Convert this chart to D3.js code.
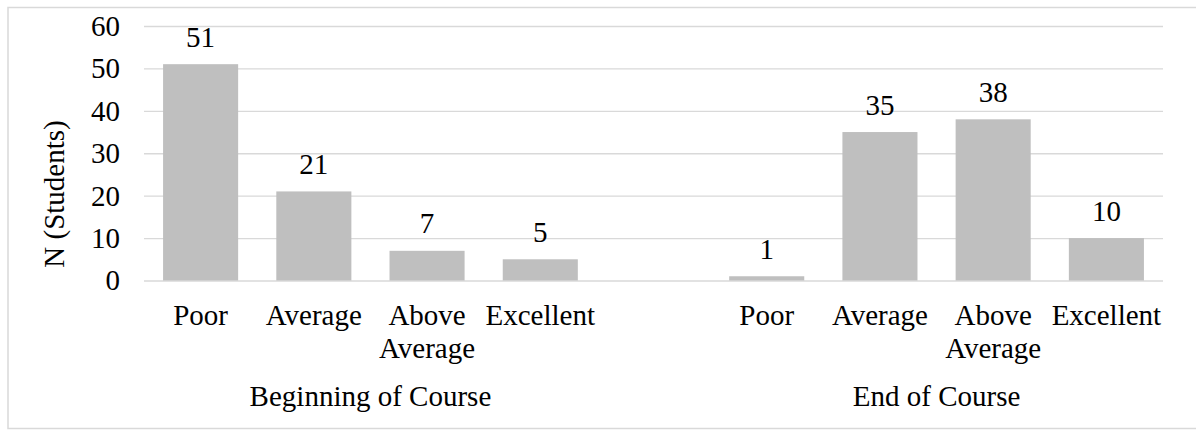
<!DOCTYPE html>
<html>
<head>
<meta charset="utf-8">
<script src="https://cdn.jsdelivr.net/npm/d3@7/dist/d3.min.js"></script>
<style>
  html, body { margin: 0; padding: 0; background: #fff; overflow: hidden; }
  svg { display: block; }
  svg text, svg tspan { font-family: "Liberation Serif", "Times New Roman", Tinos, serif !important; }
</style>
</head>
<body>
<svg id="chart" width="1196" height="430" font-family="Liberation Serif"></svg>
<script>
// Rating categories shared by both survey points
const ratings = ["Poor", "Average", "Above Average", "Excellent"];
// Survey points (outer category level)
const groups = ["Beginning of Course", "End of Course"];
// Number of students per rating
const beginningCounts = [51, 21, 7, 5];
const endCounts = [1, 35, 38, 10];
// Y axis ticks
const yTicks = [0, 10, 20, 30, 40, 50, 60];
const yTitle = "N (Students)";

const seriesByGroup = [beginningCounts, endCounts];

// One slot per bar, with an empty slot separating the two groups
const slots = [];
groups.forEach((g, gi) => {
  if (gi > 0) slots.push({ key: "gap" + gi, spacer: true });
  ratings.forEach((r, ri) => {
    slots.push({ key: g + "|" + r, group: g, rating: r, value: seriesByGroup[gi][ri] });
  });
});
const bars = slots.filter(d => !d.spacer);

const svg = d3.select("#chart");
const W = 1196, H = 430;
const plot = { left: 144, right: 1163, top: 26, bottom: 280.5 };
const FONT_FAMILY = "Liberation Serif";
const FONT_SIZE = 29;

function serif(sel) {
  return sel
    .attr("font-family", FONT_FAMILY)
    .attr("font-size", FONT_SIZE)
    .attr("fill", "#000");
}

// Outer frame (open on the right, running past the edge)
svg.append("path")
  .attr("d", `M${W + 20},7.5 H8 V428.5 H${W + 20}`)
  .attr("fill", "none")
  .attr("stroke", "#d9d9d9").attr("stroke-width", 1.5);

const x = d3.scaleBand()
  .domain(slots.map(d => d.key))
  .range([plot.left, plot.right])
  .paddingInner(0.337)
  .paddingOuter(0.1685);

const y = d3.scaleLinear()
  .domain([0, 60])
  .range([plot.bottom, plot.top]);

// Horizontal gridlines
const yAxis = d3.axisLeft(y)
  .tickValues(yTicks)
  .tickSize(-(plot.right - plot.left))
  .tickFormat("");

const yg = svg.append("g")
  .attr("transform", `translate(${plot.left},0)`)
  .call(yAxis);
yg.select(".domain").remove();
yg.selectAll(".tick line")
  .attr("stroke", "#d9d9d9")
  .attr("stroke-width", 1.3);

// Y tick labels
serif(svg.append("g")
  .selectAll("text")
  .data(yTicks)
  .join("text")
  .attr("x", plot.left - 24)
  .attr("y", d => y(d))
  .attr("dy", "0.34em")
  .attr("text-anchor", "end")
  .text(d => d));

// Bars
svg.append("g")
  .selectAll("rect")
  .data(bars)
  .join("rect")
  .attr("x", d => x(d.key))
  .attr("y", d => y(d.value))
  .attr("width", x.bandwidth())
  .attr("height", d => y(0) - y(d.value))
  .attr("fill", "#bfbfbf");

// Value labels
serif(svg.append("g")
  .selectAll("text")
  .data(bars)
  .join("text")
  .attr("x", d => x(d.key) + x.bandwidth() / 2)
  .attr("y", d => y(d.value) - 17.5)
  .attr("text-anchor", "middle")
  .text(d => d.value));

// Category labels (split into two lines where needed)
const catLines = { "Above Average": ["Above", "Average"] };
const catG = svg.append("g");
bars.forEach(d => {
  const lines = catLines[d.rating] || [d.rating];
  const t = serif(catG.append("text")
    .attr("x", x(d.key) + x.bandwidth() / 2)
    .attr("y", 325)
    .attr("text-anchor", "middle"));
  lines.forEach((ln, i) => {
    t.append("tspan")
      .attr("x", x(d.key) + x.bandwidth() / 2)
      .attr("dy", i === 0 ? 0 : 33)
      .text(ln);
  });
});

// Group labels centred under their four bars
groups.forEach(g => {
  const keys = bars.filter(d => d.group === g).map(d => d.key);
  const x0 = x(keys[0]) - x.step() * x.paddingInner() / 2;
  const x1 = x(keys[keys.length - 1]) + x.bandwidth() + x.step() * x.paddingInner() / 2;
  serif(svg.append("text")
    .attr("x", (x0 + x1) / 2)
    .attr("y", 406)
    .attr("text-anchor", "middle")
    .text(g));
});

// Y axis title
serif(svg.append("text")
  .attr("transform", `translate(63.5,194) rotate(-90)`)
  .attr("text-anchor", "middle")
  .text(yTitle));
</script>
</body>
</html>
